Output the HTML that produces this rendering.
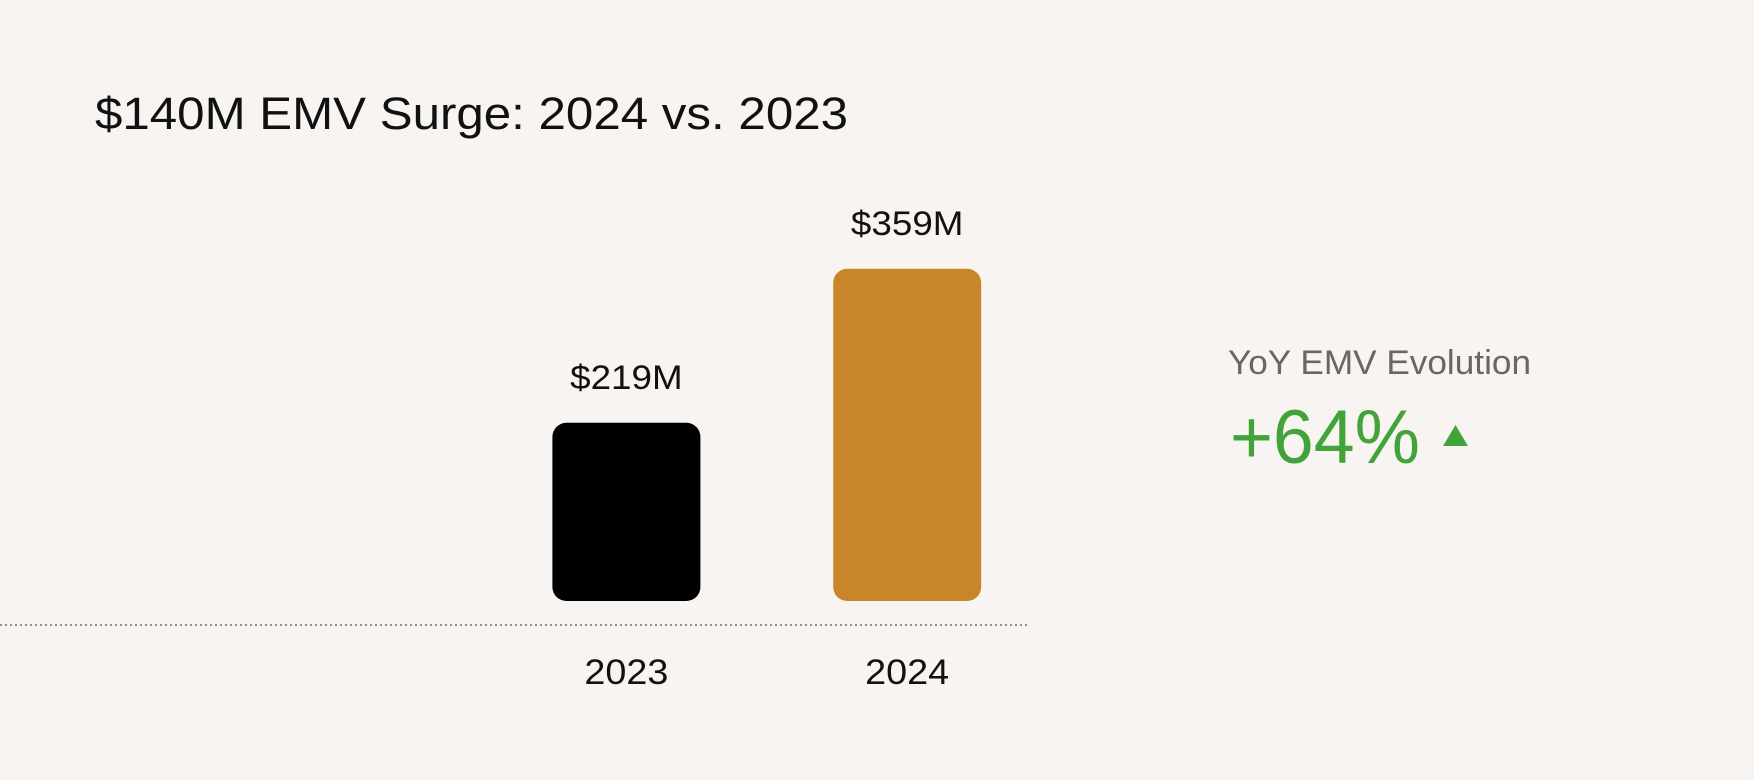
<!DOCTYPE html>
<html><head><meta charset="utf-8"><style>
html,body{margin:0;padding:0;background:#f7f4f1;}
svg{display:block;}
text{font-family:"Liberation Sans",sans-serif;}
</style></head><body>
<svg width="1754" height="780" viewBox="0 0 1754 780">
<rect width="1754" height="780" fill="#f7f4f1"/>
<text x="95" y="129" font-size="45" fill="#111" textLength="753" lengthAdjust="spacingAndGlyphs">$140M EMV Surge: 2024 vs. 2023</text>
<line x1="0" y1="625" x2="1027" y2="625" stroke="#555" stroke-width="1.2" stroke-dasharray="2,3"/>
<g id="bars"></g>
<text x="1228" y="374" font-size="34" fill="#6a6665" textLength="303" lengthAdjust="spacingAndGlyphs">YoY EMV Evolution</text>
<text x="1230" y="463" font-size="76" fill="#43a33b" textLength="190" lengthAdjust="spacingAndGlyphs">+64%</text>
<polygon points="1443,446 1468,446 1455.5,425" fill="#43a33b"/>
</svg>
<script>
const categories=["2023","2024"];
const values=[219,359];
const valueLabels=["$219M","$359M"];
const colors=["#000000","#c9852a"];
const NS="http://www.w3.org/2000/svg";
const g=document.getElementById("bars");
function y(v){return 601-(v-57)*1.1;}
function xc(i){return 626.4+i*280.8;}
const bw=148;
categories.forEach((c,i)=>{
  const r=document.createElementNS(NS,"rect");
  r.setAttribute("x",xc(i)-bw/2);r.setAttribute("y",y(values[i]));
  r.setAttribute("width",bw);r.setAttribute("height",601-y(values[i]));
  r.setAttribute("rx",14);r.setAttribute("fill",colors[i]);
  
  
  g.appendChild(r);
  const t=document.createElementNS(NS,"text");
  t.setAttribute("x",xc(i));t.setAttribute("y",y(values[i])-34);
  t.setAttribute("text-anchor","middle");t.setAttribute("font-size","34");t.setAttribute("fill","#111");
  t.setAttribute("textLength",valueLabels[i].length*22.5);t.setAttribute("lengthAdjust","spacingAndGlyphs");
  t.textContent=valueLabels[i];
  
  
  g.appendChild(t);
  const l=document.createElementNS(NS,"text");
  l.setAttribute("x",xc(i));l.setAttribute("y",684);
  l.setAttribute("text-anchor","middle");l.setAttribute("font-size","35");l.setAttribute("fill","#111");
  l.setAttribute("textLength","84");l.setAttribute("lengthAdjust","spacingAndGlyphs");
  l.textContent=c;
  
  
  g.appendChild(l);
});
</script>
</body></html>
